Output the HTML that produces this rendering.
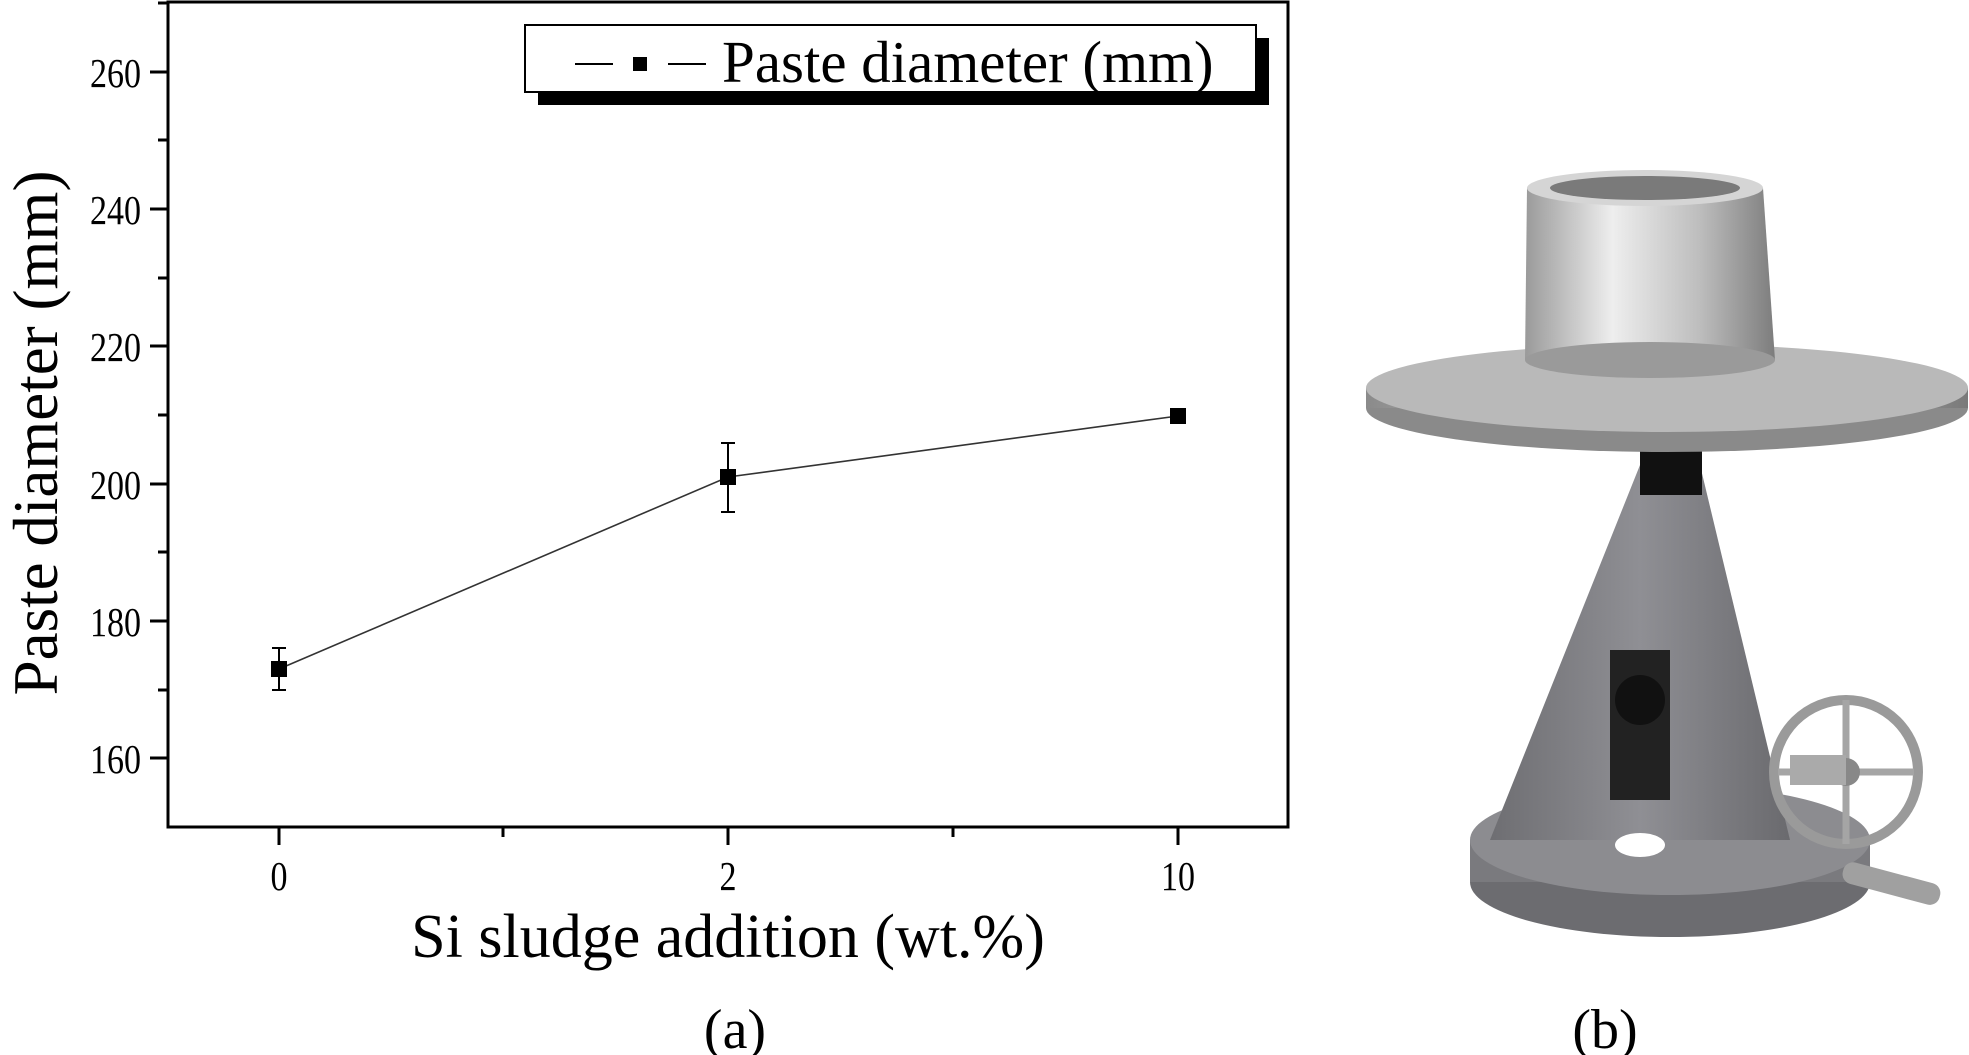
<!DOCTYPE html>
<html><head><style>
body{margin:0;background:#fff;}
svg{display:block;}
text{font-family:"Liberation Serif",serif;fill:#000;}
</style></head><body>
<svg width="1969" height="1055" viewBox="0 0 1969 1055">
<defs>
<linearGradient id="disc" x1="0" x2="1"><stop offset="0" stop-color="#8a8a8a"/><stop offset="0.4" stop-color="#d8d8d8"/><stop offset="0.7" stop-color="#b5b5b5"/><stop offset="1" stop-color="#7a7a7a"/></linearGradient>
<linearGradient id="cone" x1="0" x2="1"><stop offset="0" stop-color="#9a9a9a"/><stop offset="0.35" stop-color="#eeeeee"/><stop offset="0.7" stop-color="#bdbdbd"/><stop offset="1" stop-color="#7d7d7d"/></linearGradient>
<linearGradient id="stand" x1="0" x2="1"><stop offset="0" stop-color="#6e6e72"/><stop offset="0.5" stop-color="#8f8f94"/><stop offset="1" stop-color="#6a6a6e"/></linearGradient>
</defs>
<rect x="168" y="2" width="1120" height="825" fill="none" stroke="#000" stroke-width="3"/>
<g stroke="#000" stroke-width="3">
<line x1="150" y1="758" x2="168" y2="758"/><line x1="150" y1="621" x2="168" y2="621"/><line x1="150" y1="484" x2="168" y2="484"/><line x1="150" y1="346" x2="168" y2="346"/><line x1="150" y1="209" x2="168" y2="209"/><line x1="150" y1="72" x2="168" y2="72"/>
<line x1="158" y1="690" x2="168" y2="690"/><line x1="158" y1="552" x2="168" y2="552"/><line x1="158" y1="415" x2="168" y2="415"/><line x1="158" y1="278" x2="168" y2="278"/><line x1="158" y1="140" x2="168" y2="140"/><line x1="158" y1="3" x2="168" y2="3"/>
<line x1="279" y1="827" x2="279" y2="845"/><line x1="728" y1="827" x2="728" y2="845"/><line x1="1178" y1="827" x2="1178" y2="845"/>
<line x1="503" y1="827" x2="503" y2="837"/><line x1="953" y1="827" x2="953" y2="837"/>
</g>
<g font-size="41" text-anchor="end">
<text transform="translate(141,773) scale(0.83,1)">160</text><text transform="translate(141,636) scale(0.83,1)">180</text><text transform="translate(141,499) scale(0.83,1)">200</text><text transform="translate(141,361) scale(0.83,1)">220</text><text transform="translate(141,224) scale(0.83,1)">240</text><text transform="translate(141,87) scale(0.83,1)">260</text>
</g>
<g font-size="41" text-anchor="middle">
<text transform="translate(279,890) scale(0.83,1)">0</text><text transform="translate(728,890) scale(0.83,1)">2</text><text transform="translate(1178,890) scale(0.83,1)">10</text>
</g>
<text x="728" y="957" font-size="62" text-anchor="middle">Si sludge addition (wt.%)</text>
<text transform="translate(57,433) rotate(-90)" font-size="63" text-anchor="middle">Paste diameter (mm)</text>
<polyline points="279,669 728,477 1178,416" fill="none" stroke="#333" stroke-width="1.6"/>
<g stroke="#000" stroke-width="2">
<line x1="279" y1="648" x2="279" y2="690"/><line x1="272" y1="648" x2="286" y2="648"/><line x1="272" y1="690" x2="286" y2="690"/>
<line x1="728" y1="443" x2="728" y2="512"/><line x1="721" y1="443" x2="735" y2="443"/><line x1="721" y1="512" x2="735" y2="512"/>
</g>
<rect x="271" y="661" width="16" height="16"/><rect x="720" y="469" width="16" height="16"/><rect x="1170" y="408" width="16" height="16"/>
<rect x="538" y="38" width="731" height="67" fill="#000"/>
<rect x="525" y="25" width="731" height="67" fill="#fff" stroke="#000" stroke-width="2"/>
<line x1="575" y1="64" x2="613" y2="64" stroke="#000" stroke-width="2"/>
<rect x="633" y="57" width="14" height="14"/>
<line x1="668" y1="64" x2="706" y2="64" stroke="#000" stroke-width="2"/>
<text x="722" y="82" font-size="59">Paste diameter (mm)</text>
<text x="735" y="1048" font-size="56" text-anchor="middle">(a)</text>
<text x="1605" y="1048" font-size="56" text-anchor="middle">(b)</text>
<ellipse cx="1670" cy="882" rx="200" ry="55" fill="#6c6c70"/>
<rect x="1470" y="840" width="400" height="42" fill="#7a7a7e"/>
<ellipse cx="1670" cy="840" rx="200" ry="55" fill="#8c8c90"/>
<polygon points="1640,465 1700,465 1790,840 1490,840" fill="url(#stand)"/>
<rect x="1610" y="650" width="60" height="150" fill="#222"/>
<circle cx="1640" cy="700" r="25" fill="#111"/>
<ellipse cx="1640" cy="845" rx="25" ry="12" fill="#fff"/>
<rect x="1640" y="450" width="62" height="45" fill="#111"/>
<circle cx="1846" cy="772" r="72" fill="none" stroke="#9a9a9a" stroke-width="10"/>
<g stroke="#a5a5a5" stroke-width="7"><line x1="1846" y1="700" x2="1846" y2="844"/><line x1="1778" y1="772" x2="1914" y2="772"/></g>
<circle cx="1846" cy="772" r="14" fill="#888"/>
<rect x="1790" y="755" width="56" height="30" fill="#aaa"/>
<rect x="1846" y="860" width="100" height="22" rx="10" fill="#a0a0a0" transform="rotate(15 1846 860)"/>
<ellipse cx="1667" cy="408" rx="301" ry="44" fill="#8a8a8a"/>
<rect x="1366" y="388" width="602" height="20" fill="url(#disc)"/>
<ellipse cx="1667" cy="388" rx="301" ry="44" fill="#b9b9b9"/>
<polygon points="1527,188 1763,188 1775,360 1525,360" fill="url(#cone)"/>
<ellipse cx="1650" cy="360" rx="125" ry="18" fill="#9a9a9a"/>
<ellipse cx="1645" cy="188" rx="118" ry="18" fill="#d5d5d5"/>
<ellipse cx="1645" cy="188" rx="95" ry="12" fill="#7a7a7a"/>
</svg>
</body></html>
